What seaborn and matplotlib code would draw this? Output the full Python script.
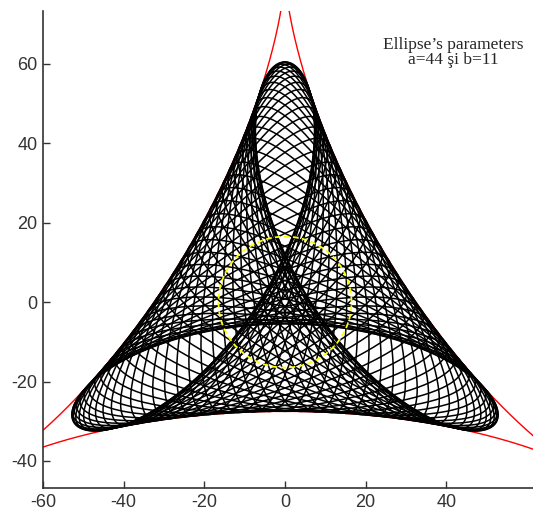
import numpy as np
import pandas as pd
import matplotlib
matplotlib.use("Agg")
import matplotlib.pyplot as plt
import seaborn as sns

# Parameters of the rolling ellipse (from the chart's annotation)
a_axis = 44.0
b_axis = 11.0
n_ellipses = 60
n_points = 300

x_ticks = [-60, -40, -20, 0, 20, 40]
y_ticks = [-40, -20, 0, 20, 40, 60]
title_lines = ["Ellipse\u2019s parameters", "a=44 \u015fi b=11"]

sns.set_style("ticks")
plt.rcParams["xtick.direction"] = "in"
plt.rcParams["ytick.direction"] = "in"
plt.rcParams["axes.unicode_minus"] = False
plt.rcParams["font.family"] = ["Liberation Sans", "DejaVu Sans"]

# Family of ellipses: centre on a circle of radius (a-b)/2, rotating backwards at half speed
R = (a_axis - b_axis) / 2
s = np.linspace(0, 2 * np.pi, n_points)
rows = []
for k in range(n_ellipses):
    phi = 2 * np.pi * k / n_ellipses
    th = 3 * np.pi / 4 - phi / 2
    cx, cy = R * np.cos(phi), R * np.sin(phi)
    ex = cx + a_axis * np.cos(s) * np.cos(th) - b_axis * np.sin(s) * np.sin(th)
    ey = cy + a_axis * np.cos(s) * np.sin(th) + b_axis * np.sin(s) * np.cos(th)
    rows.append(pd.DataFrame({"x": ex, "y": ey, "k": k}))
ell = pd.concat(rows, ignore_index=True)

# Deltoid envelope
r = (a_axis + b_axis) / 2
t = np.linspace(0, 2 * np.pi, 1200)
dx0 = 2 * r * np.cos(t) + r * np.cos(2 * t)
dy0 = 2 * r * np.sin(t) - r * np.sin(2 * t)
delt = pd.DataFrame({"x": -dy0, "y": dx0})

# Circle of centres
c = pd.DataFrame({"x": R * np.cos(t), "y": R * np.sin(t)})

fig = plt.figure(figsize=(5.33, 5.16), dpi=100)
ax = fig.add_axes([0.0807, 0.0543, 0.9193, 0.9244])

sns.lineplot(data=delt, x="x", y="y", sort=False, estimator=None, color="red", lw=1.0, ax=ax)
sns.lineplot(data=ell, x="x", y="y", units="k", sort=False, estimator=None,
             color="black", lw=1.1, ax=ax)
sns.lineplot(data=c, x="x", y="y", sort=False, estimator=None, color="#ffff00",
             lw=1.3, ls=(0, (3, 2)), ax=ax)

ax.set_xlim(-60, 61.5)
ax.set_ylim(-46.8, 73.3)
ax.set_xticks(x_ticks)
ax.set_yticks(y_ticks)
ax.set_xlabel("")
ax.set_ylabel("")
for sp in ["top", "right"]:
    ax.spines[sp].set_visible(False)
for sp in ["left", "bottom"]:
    ax.spines[sp].set_color("#333333")
    ax.spines[sp].set_linewidth(1.2)
ax.tick_params(length=5, width=1, colors="#333333", labelsize=13, pad=4)

ax.text(0.838, 0.913, "\n".join(title_lines), transform=ax.transAxes,
        ha="center", va="center", multialignment="center", linespacing=0.92,
        fontsize=12.5, family=["Liberation Serif", "DejaVu Serif"])

fig.savefig("out.png", dpi=100)
